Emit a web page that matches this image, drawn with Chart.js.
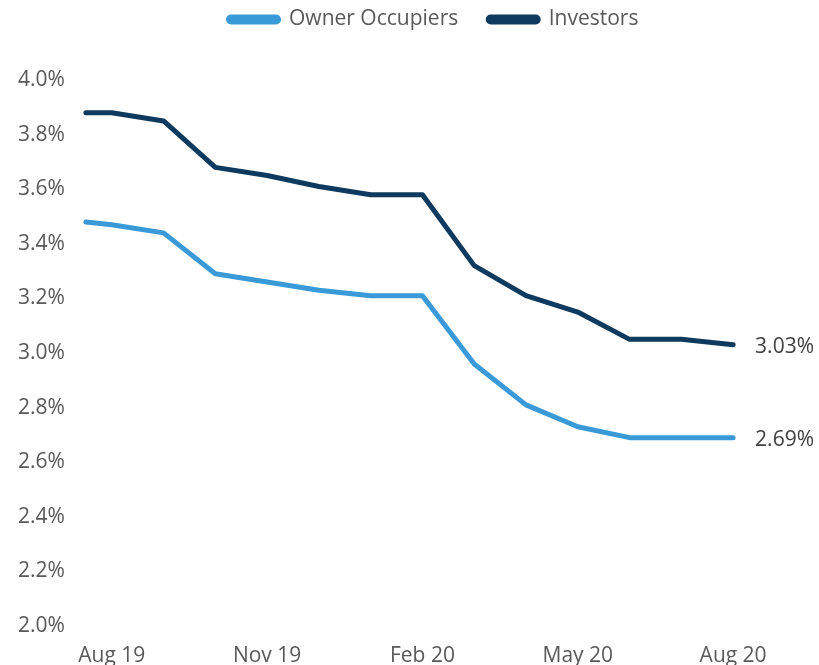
<!DOCTYPE html>
<html>
<head>
<meta charset="utf-8">
<title>Variable rates</title>
<script src="https://cdn.jsdelivr.net/npm/chart.js@4"></script>
<style>
    html, body { margin: 0; padding: 0; background: #ffffff; }
    #wrap { width: 819px; height: 665px; }
</style>
</head>
<body>
<div id="wrap"><canvas id="rateChart" width="819" height="665"></canvas></div>
<script>
// Month positions: 0 = Aug 19 ... 12 = Aug 20 (first reading sits half a month earlier)
const monthPos = [-0.5, 0, 1, 2, 3, 4, 5, 6, 7, 8, 9, 10, 11, 12];
const monthLabels = ['Aug 19', 'Sep 19', 'Oct 19', 'Nov 19', 'Dec 19', 'Jan 20', 'Feb 20',
    'Mar 20', 'Apr 20', 'May 20', 'Jun 20', 'Jul 20', 'Aug 20'];
const tickMonths = [0, 3, 6, 9, 12];

const ownerOccupiers = [3.48, 3.47, 3.44, 3.29, 3.26, 3.23, 3.21, 3.21, 2.96, 2.81, 2.73, 2.69, 2.69, 2.69];
const investors = [3.88, 3.88, 3.85, 3.68, 3.65, 3.61, 3.58, 3.58, 3.32, 3.21, 3.15, 3.05, 3.05, 3.03];

const FONT = '"Open Sans", "Liberation Sans", sans-serif';
const FONT_SIZE = 21;

function toPoints(values) {
    return values.map((v, i) => ({ x: monthPos[i], y: v }));
}

// Write the latest value next to the end of each line
const endLabels = {
    id: 'endLabels',
    afterDatasetsDraw(chart) {
        const ctx = chart.ctx;
        ctx.save();
        ctx.font = FONT_SIZE + 'px ' + FONT;
        ctx.fillStyle = '#404040';
        ctx.textAlign = 'left';
        ctx.textBaseline = 'middle';
        chart.data.datasets.forEach((ds, i) => {
            const meta = chart.getDatasetMeta(i);
            const last = meta.data[meta.data.length - 1];
            const val = ds.data[ds.data.length - 1].y;
            ctx.fillText(val.toFixed(2) + '%', last.x + 22, last.y + 2);
        });
        ctx.restore();
    }
};

// Pull the legend up to the top edge and nudge it right of centre
const legendSpot = {
    id: 'legendSpot',
    afterLayout(chart) {
        const lg = chart.legend;
        const dy = -40;
        const dx = 45;
        lg.top += dy;
        lg.bottom += dy;
        lg.left += dx;
        lg.right += dx;
    }
};

const ctx = document.getElementById('rateChart').getContext('2d');
new Chart(ctx, {
    type: 'line',
    data: {
        datasets: [
            {
                label: 'Owner Occupiers',
                data: toPoints(ownerOccupiers),
                borderColor: '#3a9ad8',
                backgroundColor: '#3a9ad8',
                borderWidth: 5,
                pointRadius: 0,
                tension: 0,
                borderCapStyle: 'round',
                borderJoinStyle: 'round',
                clip: false
            },
            {
                label: 'Investors',
                data: toPoints(investors),
                borderColor: '#0d3a5e',
                backgroundColor: '#0d3a5e',
                borderWidth: 5,
                pointRadius: 0,
                tension: 0,
                borderCapStyle: 'round',
                borderJoinStyle: 'round',
                clip: false
            }
        ]
    },
    options: {
        responsive: false,
        animation: false,
        layout: {
            padding: { left: 18, right: 60, top: 19, bottom: -22 }
        },
        plugins: {
            legend: {
                position: 'top',
                labels: {
                    boxWidth: 50,
                    boxHeight: 5,
                    padding: 30,
                    color: '#595959',
                    useBorderRadius: true,
                    borderRadius: 2.5,
                    font: { family: FONT, size: FONT_SIZE }
                }
            },
            tooltip: { enabled: false }
        },
        scales: {
            x: {
                type: 'linear',
                min: -0.5,
                max: 12.5,
                grid: { display: false, drawTicks: false },
                border: { display: false },
                afterBuildTicks: axis => {
                    axis.ticks = tickMonths.map(v => ({ value: v }));
                },
                ticks: {
                    color: '#595959',
                    padding: 20,
                    maxRotation: 0,
                    font: { family: FONT, size: FONT_SIZE, lineHeight: 1 },
                    callback: v => monthLabels[v]
                }
            },
            y: {
                min: 2.0,
                max: 4.0,
                grid: { display: false, drawTicks: false },
                border: { display: false },
                ticks: {
                    stepSize: 0.2,
                    color: '#595959',
                    padding: 10.5,
                    crossAlign: 'far',
                    font: { family: FONT, size: FONT_SIZE },
                    callback: v => v.toFixed(1) + '%'
                }
            }
        }
    },
    plugins: [endLabels, legendSpot]
});
</script>
</body>
</html>
